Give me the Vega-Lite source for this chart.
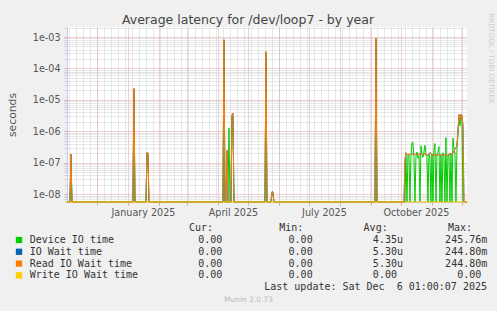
{
  "$schema": "https://vega.github.io/schema/vega-lite/v6.json",
  "width": 400,
  "height": 175,
  "autosize": {"type": "none"},
  "padding": {"left": 67, "top": 27, "right": 30, "bottom": 109},
  "background": "#f0f0f0",
  "config": {
    "view": {"fill": "white", "stroke": null},
    "font": "DejaVu Sans"
  },
  "title": {
    "text": "Average latency for /dev/loop7 - by year",
    "font": "DejaVu Sans",
    "fontSize": 12.5,
    "fontWeight": "normal",
    "color": "#444444",
    "anchor": "middle",
    "dx": -19,
    "dy": 17,
    "offset": 3
  },
  "data": {
    "values": [
      {"t": "2024-11-01", "dev": 0, "io": 0, "rd": 0, "wr": 0},
      {"t": "2024-11-04", "dev": 0, "io": 0, "rd": 0, "wr": 0},
      {"t": "2024-11-05", "dev": 1.5e-7, "io": 1.9e-7, "rd": 1.9e-7, "wr": 0},
      {"t": "2024-11-06", "dev": 0, "io": 0, "rd": 0, "wr": 0},
      {"t": "2025-01-06", "dev": 0, "io": 0, "rd": 0, "wr": 0},
      {"t": "2025-01-07", "dev": 1.8e-5, "io": 2.3e-5, "rd": 2.3e-5, "wr": 0},
      {"t": "2025-01-08", "dev": 0, "io": 0, "rd": 0, "wr": 0},
      {"t": "2025-01-19", "dev": 0, "io": 0, "rd": 0, "wr": 0},
      {"t": "2025-01-20", "dev": 1.8e-7, "io": 2.2e-7, "rd": 2.2e-7, "wr": 0},
      {"t": "2025-01-21", "dev": 1.8e-7, "io": 2.0e-7, "rd": 2.0e-7, "wr": 0},
      {"t": "2025-01-22", "dev": 0, "io": 0, "rd": 0, "wr": 0},
      {"t": "2025-04-06", "dev": 0, "io": 0, "rd": 0, "wr": 0},
      {"t": "2025-04-07", "dev": 7e-4, "io": 8.2e-4, "rd": 8.2e-4, "wr": 0},
      {"t": "2025-04-08", "dev": 0, "io": 0, "rd": 0, "wr": 0},
      {"t": "2025-04-09", "dev": 0, "io": 0, "rd": 0, "wr": 0},
      {"t": "2025-04-10", "dev": 0, "io": 2.5e-7, "rd": 2.5e-7, "wr": 0},
      {"t": "2025-04-11", "dev": 0, "io": 0, "rd": 0, "wr": 0},
      {"t": "2025-04-12", "dev": 1.3e-6, "io": 0, "rd": 0, "wr": 0},
      {"t": "2025-04-13", "dev": 0, "io": 0, "rd": 0, "wr": 0},
      {"t": "2025-04-14", "dev": 0, "io": 0, "rd": 0, "wr": 0},
      {"t": "2025-04-15", "dev": 2.8e-6, "io": 3.3e-6, "rd": 3.3e-6, "wr": 0},
      {"t": "2025-04-16", "dev": 3.0e-6, "io": 3.8e-6, "rd": 3.8e-6, "wr": 0},
      {"t": "2025-04-17", "dev": 0, "io": 0, "rd": 0, "wr": 0},
      {"t": "2025-05-18", "dev": 0, "io": 0, "rd": 0, "wr": 0},
      {"t": "2025-05-19", "dev": 3e-4, "io": 3.4e-4, "rd": 3.4e-4, "wr": 0},
      {"t": "2025-05-20", "dev": 0, "io": 0, "rd": 0, "wr": 0},
      {"t": "2025-05-24", "dev": 0, "io": 0, "rd": 0, "wr": 0},
      {"t": "2025-05-25", "dev": 1e-8, "io": 1.2e-8, "rd": 1.2e-8, "wr": 0},
      {"t": "2025-05-26", "dev": 1e-8, "io": 1.2e-8, "rd": 1.2e-8, "wr": 0},
      {"t": "2025-05-27", "dev": 0, "io": 0, "rd": 0, "wr": 0},
      {"t": "2025-09-05", "dev": 0, "io": 0, "rd": 0, "wr": 0},
      {"t": "2025-09-06", "dev": 8e-4, "io": 9.3e-4, "rd": 9.3e-4, "wr": 0},
      {"t": "2025-09-07", "dev": 0, "io": 0, "rd": 0, "wr": 0},
      {"t": "2025-10-04", "dev": 0, "io": 0, "rd": 0, "wr": 0},
      {"t": "2025-10-05", "dev": 0, "io": 1.2e-7, "rd": 1.2e-7, "wr": 0},
      {"t": "2025-10-06", "dev": 1.8e-7, "io": 2.1e-7, "rd": 2.1e-7, "wr": 0},
      {"t": "2025-10-07", "dev": 0, "io": 1.9e-7, "rd": 1.9e-7, "wr": 0},
      {"t": "2025-10-08", "dev": 1.7e-7, "io": 1.8e-7, "rd": 1.8e-7, "wr": 0},
      {"t": "2025-10-09", "dev": 1.9e-7, "io": 1.9e-7, "rd": 1.9e-7, "wr": 0},
      {"t": "2025-10-10", "dev": 0, "io": 1.8e-7, "rd": 1.8e-7, "wr": 0},
      {"t": "2025-10-11", "dev": 1.6e-7, "io": 1.9e-7, "rd": 1.9e-7, "wr": 0},
      {"t": "2025-10-12", "dev": 4.4e-7, "io": 1.9e-7, "rd": 1.9e-7, "wr": 0},
      {"t": "2025-10-13", "dev": 4.4e-7, "io": 2.0e-7, "rd": 2.0e-7, "wr": 0},
      {"t": "2025-10-14", "dev": 1.5e-7, "io": 1.9e-7, "rd": 1.9e-7, "wr": 0},
      {"t": "2025-10-15", "dev": 0, "io": 1.8e-7, "rd": 1.8e-7, "wr": 0},
      {"t": "2025-10-16", "dev": 1.6e-7, "io": 1.9e-7, "rd": 1.9e-7, "wr": 0},
      {"t": "2025-10-17", "dev": 2.2e-7, "io": 1.9e-7, "rd": 1.9e-7, "wr": 0},
      {"t": "2025-10-18", "dev": 1.4e-7, "io": 1.8e-7, "rd": 1.8e-7, "wr": 0},
      {"t": "2025-10-19", "dev": 1.7e-7, "io": 1.9e-7, "rd": 1.9e-7, "wr": 0},
      {"t": "2025-10-20", "dev": 0, "io": 1.9e-7, "rd": 1.9e-7, "wr": 0},
      {"t": "2025-10-21", "dev": 3.5e-7, "io": 2.0e-7, "rd": 2.0e-7, "wr": 0},
      {"t": "2025-10-22", "dev": 2.0e-7, "io": 1.9e-7, "rd": 1.9e-7, "wr": 0},
      {"t": "2025-10-23", "dev": 1.5e-7, "io": 1.8e-7, "rd": 1.8e-7, "wr": 0},
      {"t": "2025-10-24", "dev": 2.2e-7, "io": 1.9e-7, "rd": 1.9e-7, "wr": 0},
      {"t": "2025-10-25", "dev": 3.6e-7, "io": 2.0e-7, "rd": 2.0e-7, "wr": 0},
      {"t": "2025-10-26", "dev": 1.8e-7, "io": 1.8e-7, "rd": 1.8e-7, "wr": 0},
      {"t": "2025-10-27", "dev": 1.6e-7, "io": 1.7e-7, "rd": 1.7e-7, "wr": 0},
      {"t": "2025-10-28", "dev": 0, "io": 1.8e-7, "rd": 1.8e-7, "wr": 0},
      {"t": "2025-10-29", "dev": 2.0e-7, "io": 1.9e-7, "rd": 1.9e-7, "wr": 0},
      {"t": "2025-10-30", "dev": 1.5e-7, "io": 2.1e-7, "rd": 2.1e-7, "wr": 0},
      {"t": "2025-10-31", "dev": 0, "io": 2.0e-7, "rd": 2.0e-7, "wr": 0},
      {"t": "2025-11-01", "dev": 1.9e-7, "io": 1.8e-7, "rd": 1.8e-7, "wr": 0},
      {"t": "2025-11-02", "dev": 0, "io": 1.7e-7, "rd": 1.7e-7, "wr": 0},
      {"t": "2025-11-03", "dev": 2.5e-7, "io": 1.9e-7, "rd": 1.9e-7, "wr": 0},
      {"t": "2025-11-04", "dev": 4.1e-7, "io": 1.8e-7, "rd": 1.8e-7, "wr": 0},
      {"t": "2025-11-05", "dev": 0, "io": 1.7e-7, "rd": 1.7e-7, "wr": 0},
      {"t": "2025-11-06", "dev": 1.9e-7, "io": 1.8e-7, "rd": 1.8e-7, "wr": 0},
      {"t": "2025-11-07", "dev": 2.2e-7, "io": 1.9e-7, "rd": 1.9e-7, "wr": 0},
      {"t": "2025-11-08", "dev": 3.3e-7, "io": 1.8e-7, "rd": 1.8e-7, "wr": 0},
      {"t": "2025-11-09", "dev": 0, "io": 1.7e-7, "rd": 1.7e-7, "wr": 0},
      {"t": "2025-11-10", "dev": 1.8e-7, "io": 1.8e-7, "rd": 1.8e-7, "wr": 0},
      {"t": "2025-11-11", "dev": 0, "io": 1.9e-7, "rd": 1.9e-7, "wr": 0},
      {"t": "2025-11-12", "dev": 2.1e-7, "io": 1.8e-7, "rd": 1.8e-7, "wr": 0},
      {"t": "2025-11-13", "dev": 1.5e-7, "io": 1.7e-7, "rd": 1.7e-7, "wr": 0},
      {"t": "2025-11-14", "dev": 0, "io": 1.8e-7, "rd": 1.8e-7, "wr": 0},
      {"t": "2025-11-15", "dev": 6.3e-7, "io": 1.9e-7, "rd": 1.9e-7, "wr": 0},
      {"t": "2025-11-16", "dev": 0, "io": 1.8e-7, "rd": 1.8e-7, "wr": 0},
      {"t": "2025-11-17", "dev": 1.6e-7, "io": 1.7e-7, "rd": 1.7e-7, "wr": 0},
      {"t": "2025-11-18", "dev": 1.9e-7, "io": 1.9e-7, "rd": 1.9e-7, "wr": 0},
      {"t": "2025-11-19", "dev": 0, "io": 2.0e-7, "rd": 2.0e-7, "wr": 0},
      {"t": "2025-11-20", "dev": 2.0e-7, "io": 1.8e-7, "rd": 1.8e-7, "wr": 0},
      {"t": "2025-11-21", "dev": 0, "io": 1.9e-7, "rd": 1.9e-7, "wr": 0},
      {"t": "2025-11-22", "dev": 6.0e-7, "io": 2.3e-7, "rd": 2.3e-7, "wr": 0},
      {"t": "2025-11-23", "dev": 2.6e-7, "io": 2.1e-7, "rd": 2.1e-7, "wr": 0},
      {"t": "2025-11-24", "dev": 2.2e-7, "io": 2.8e-7, "rd": 2.8e-7, "wr": 0},
      {"t": "2025-11-25", "dev": 0, "io": 3.0e-7, "rd": 3.0e-7, "wr": 0},
      {"t": "2025-11-26", "dev": 3.0e-7, "io": 3.5e-7, "rd": 3.5e-7, "wr": 0},
      {"t": "2025-11-27", "dev": 8e-7, "io": 1.0e-6, "rd": 1.0e-6, "wr": 0},
      {"t": "2025-11-28", "dev": 2.5e-6, "io": 3.4e-6, "rd": 3.4e-6, "wr": 0},
      {"t": "2025-11-29", "dev": 1.5e-6, "io": 2.2e-6, "rd": 2.2e-6, "wr": 0},
      {"t": "2025-11-30", "dev": 2.8e-6, "io": 3.5e-6, "rd": 3.5e-6, "wr": 0},
      {"t": "2025-12-01", "dev": 2.5e-6, "io": 3.2e-6, "rd": 3.2e-6, "wr": 0},
      {"t": "2025-12-02", "dev": 0, "io": 1.5e-6, "rd": 1.5e-6, "wr": 0},
      {"t": "2025-12-03", "dev": 0, "io": 0, "rd": 0, "wr": 0},
      {"t": "2025-12-06", "dev": 0, "io": 0, "rd": 0, "wr": 0}
    ]
  },
  "layer": [
    {
      "mark": {"type": "line", "strokeWidth": 1},
      "encoding": {
        "x": {
          "field": "t", "type": "temporal",
          "scale": {"domain": [{"year": 2024, "month": 11, "date": 1, "hours": 1}, {"year": 2025, "month": 12, "date": 6, "hours": 1}]},
          "axis": {
            "orient": "top",
            "tickCount": {"interval": "week", "step": 1},
            "grid": true, "gridColor": "#d0d0d0", "gridDash": [1, 1],
            "labels": false, "ticks": false, "domain": false,
            "title": "Munin 2.0.73",
            "titleX": 181, "titleY": 272.5,
            "titleAlign": "center", "titleBaseline": "middle",
            "titleFont": "DejaVu Sans", "titleFontSize": 7.5, "titleFontWeight": "normal", "titleColor": "#bbbbbb"
          }
        },
        "y": {
          "field": "dev", "type": "quantitative",
          "scale": {"type": "log", "domain": [5.7e-9, 2.08e-3], "clamp": true, "nice": false},
          "axis": {
            "orient": "left",
            "title": "seconds",
            "titleX": -52, "titleY": 87.5,
            "titleAlign": "center", "titleBaseline": "alphabetic",
            "titleFont": "DejaVu Sans", "titleFontSize": 10.8, "titleFontWeight": "normal", "titleColor": "#555555",
            "tickCount": 20,
            "labelExpr": "abs(log(datum.value)/LN10 - round(log(datum.value)/LN10)) < 0.001 ? '1e-0' + (-round(log(datum.value)/LN10)) : ''",
            "labelFont": "DejaVu Sans", "labelFontSize": 9.6, "labelColor": "#555555", "labelPadding": 4, "labelOverlap": false,
            "tickSize": 3,
            "tickColor": {"condition": {"test": "abs(log(datum.value)/LN10 - round(log(datum.value)/LN10)) < 0.001", "value": "#e6a0a0"}, "value": "#d0d0d0"},
            "grid": true,
            "gridColor": {"condition": {"test": "abs(log(datum.value)/LN10 - round(log(datum.value)/LN10)) < 0.001", "value": "#e6a0a0"}, "value": "#d0d0d0"},
            "gridDash": [1, 1],
            "domainColor": "#c8c8f0"
          }
        },
        "color": {
          "datum": "Device IO time", "type": "nominal",
          "scale": {
            "domain": ["Device IO time", "IO Wait time", "Read IO Wait time", "Write IO Wait time"],
            "range": ["#00cc00", "#0066b3", "#ff8000", "#ffcc00"]
          },
          "legend": {
            "orient": "none", "legendX": -53, "legendY": 208,
            "direction": "vertical",
            "title": "Last update: Sat Dec \u00a06 01:00:07 2025",
            "titleOrient": "bottom", "titleAnchor": "end", "titleAlign": "right",
            "titleFont": "DejaVu Sans Mono", "titleFontSize": 10, "titleFontWeight": "normal", "titleColor": "#333333",
            "titlePadding": 2, "titleLimit": 0,
            "labelFont": "DejaVu Sans Mono", "labelFontSize": 10, "labelColor": "#333333",
            "labelLimit": 0, "labelOffset": 5.7,
            "labelExpr": "pad(datum.label,28,'\u00a0')+pad('0.00',15,'\u00a0')+pad('0.00',14,'\u00a0')+pad(datum.label=='Device IO time'?'4.35u':(datum.label=='Write IO Wait time'?'0.00':'5.30u'),12,'\u00a0')+(datum.label=='Device IO time'?'245.76m':(datum.label=='Write IO Wait time'?'\u00a0\u00a00.00':'244.80m'))",
            "symbolType": "square", "symbolSize": 40, "symbolStrokeWidth": 0,
            "rowPadding": 1.8, "padding": 0,
            "encode": {"symbols": {"update": {"fill": {"scale": "color", "field": "value"}, "strokeWidth": {"value": 0}}}}
          }
        }
      }
    },
    {
      "mark": {"type": "line", "strokeWidth": 1},
      "encoding": {
        "x": {"field": "t", "type": "temporal", "axis": null},
        "y": {"field": "io", "type": "quantitative", "scale": {"type": "log", "domain": [5.7e-9, 2.08e-3], "clamp": true, "nice": false}, "axis": null},
        "color": {"datum": "IO Wait time", "type": "nominal"}
      }
    },
    {
      "mark": {"type": "line", "strokeWidth": 1},
      "encoding": {
        "x": {"field": "t", "type": "temporal", "axis": null},
        "y": {"field": "rd", "type": "quantitative", "scale": {"type": "log", "domain": [5.7e-9, 2.08e-3], "clamp": true, "nice": false}, "axis": null},
        "color": {"datum": "Read IO Wait time", "type": "nominal"}
      }
    },
    {
      "mark": {"type": "line", "strokeWidth": 1},
      "encoding": {
        "x": {
          "field": "t", "type": "temporal",
          "axis": {
            "orient": "bottom",
            "tickCount": {"interval": "month", "step": 1},
            "grid": true, "gridColor": "#e6a0a0", "gridDash": [1, 1],
            "tickColor": "#e6a0a0", "tickSize": 3,
            "labelExpr": "month(datum.value) % 3 == 0 ? timeFormat(datum.value, '%B %Y') : ''",
            "labelOffset": 15, "labelFlush": false, "labelOverlap": false,
            "labelFont": "DejaVu Sans", "labelFontSize": 9.6, "labelColor": "#555555", "labelPadding": 2,
            "domainColor": "#c8c8f0",
            "title": "Cur:\u00a0\u00a0\u00a0\u00a0\u00a0\u00a0\u00a0\u00a0\u00a0\u00a0\u00a0Min:\u00a0\u00a0\u00a0\u00a0\u00a0\u00a0\u00a0\u00a0\u00a0\u00a0Avg:\u00a0\u00a0\u00a0\u00a0\u00a0\u00a0\u00a0\u00a0\u00a0\u00a0Max:",
            "titleX": 121.5, "titleY": 25.5,
            "titleAlign": "left", "titleBaseline": "middle",
            "titleFont": "DejaVu Sans Mono", "titleFontSize": 10, "titleFontWeight": "normal", "titleColor": "#333333"
          }
        },
        "y": {
          "field": "wr", "type": "quantitative",
          "scale": {"type": "log", "domain": [5.7e-9, 2.08e-3], "clamp": true, "nice": false},
          "axis": {
            "orient": "right",
            "grid": false, "labels": false, "ticks": false, "domain": false,
            "title": "RRDTOOL / TOBI OETIKER",
            "titleAngle": 90, "titleX": 23.5, "titleY": 31,
            "titleAlign": "center", "titleBaseline": "middle",
            "titleFont": "DejaVu Sans", "titleFontSize": 7, "titleFontWeight": "normal", "titleColor": "#cccccc"
          }
        },
        "color": {"datum": "Write IO Wait time", "type": "nominal"}
      }
    }
  ],
  "resolve": {"axis": {"x": "independent", "y": "independent"}}
}
